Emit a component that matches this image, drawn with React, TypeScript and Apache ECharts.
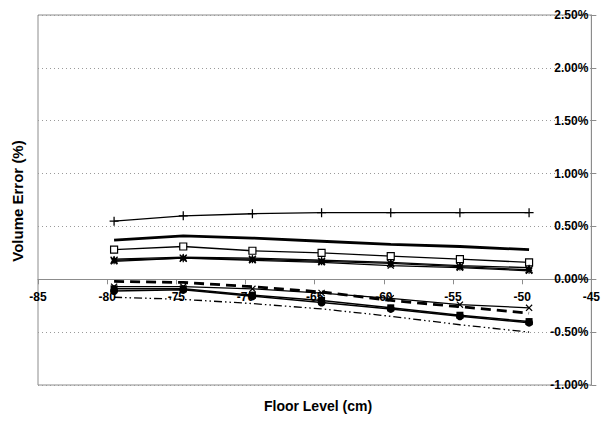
import React, { useEffect, useRef } from "react";
import * as echarts from "echarts";

const floorLevels = [-79.5, -74.5, -69.5, -64.5, -59.5, -54.5, -49.5];
const xTickLabels = [-85, -80, -75, -70, -65, -60, -55, -50, -45];
const yTickLabels = [-1.0, -0.5, 0.0, 0.5, 1.0, 1.5, 2.0, 2.5];

const plusSeries = [0.55, 0.6, 0.62, 0.63, 0.63, 0.63, 0.63];
const thickSeries = [0.37, 0.41, 0.39, 0.36, 0.33, 0.31, 0.28];
const squareSeries = [0.28, 0.31, 0.27, 0.25, 0.22, 0.19, 0.16];
const triangleSeries = [0.19, 0.21, 0.2, 0.18, 0.16, 0.13, 0.11];
const starSeries = [0.18, 0.2, 0.19, 0.17, 0.15, 0.12, 0.09];
const xPosSeries = [0.17, 0.2, 0.18, 0.16, 0.13, 0.11, 0.08];

const xNegSeries = [-0.07, -0.07, -0.09, -0.13, -0.18, -0.24, -0.27];
const dashedSeries = [-0.02, -0.03, -0.07, -0.12, -0.2, -0.26, -0.32];
const filledSquareSeries = [-0.09, -0.09, -0.15, -0.2, -0.27, -0.34, -0.4];
const circleSeries = [-0.11, -0.1, -0.16, -0.22, -0.28, -0.35, -0.41];
const dashDotSeries = [-0.17, -0.19, -0.23, -0.28, -0.35, -0.43, -0.5];

const FONT = 'Arial, "Liberation Sans", sans-serif';

const PLUS = "path://M4.3,0H5.7V4.3H10V5.7H5.7V10H4.3V5.7H0V4.3H4.3Z";
const XMARK = "path://M0,1.2L1.2,0L5,3.8L8.8,0L10,1.2L6.2,5L10,8.8L8.8,10L5,6.2L1.2,10L0,8.8L3.8,5Z";
const STAR = "path://M0,1.2L1.2,0L5,3.8L8.8,0L10,1.2L6.2,5L10,8.8L8.8,10L5,6.2L1.2,10L0,8.8L3.8,5Z M4.2,0H5.8V10H4.2Z";

const GRID_TOP = 15;
const GRID_BOTTOM = 37;
const CHART_H = 422;

function pairs(vals: number[]) {
  return floorLevels.map((x, i) => [x, vals[i]]);
}

function line(
  data: number[],
  opts: {
    symbol?: string;
    size?: number;
    width?: number;
    type?: any;
    fill?: string;
  }
) {
  return {
    type: "line",
    data: pairs(data),
    symbol: opts.symbol || "none",
    symbolSize: opts.size || 6,
    showSymbol: !!opts.symbol,
    lineStyle: { color: "#000", width: opts.width || 1.3, type: opts.type || "solid" },
    itemStyle: {
      color: opts.fill || "#000",
      borderColor: "#000",
      borderWidth: opts.fill === "#fff" ? 1.2 : 0,
    },
    z: 3,
  };
}

export default function App() {
  const ref = useRef<HTMLDivElement>(null);
  useEffect(() => {
    if (!ref.current) return;
    const chart = echarts.init(ref.current, null, { renderer: "svg" });
    const yMin = yTickLabels[0];
    const yMax = yTickLabels[yTickLabels.length - 1];
    const plotH = CHART_H - GRID_TOP - GRID_BOTTOM;
    // shift the x axis up so it crosses at y = 0
    const zeroOffset = -(plotH * (0 - yMin)) / (yMax - yMin);
    chart.setOption({
      animation: false,
      backgroundColor: "#fff",
      grid: {
        left: 38,
        right: 10,
        top: GRID_TOP,
        bottom: GRID_BOTTOM,
        show: true,
        borderColor: "#8c8c8c",
        borderWidth: 1,
        backgroundColor: "transparent",
      },
      xAxis: {
        type: "value",
        min: xTickLabels[0],
        max: xTickLabels[xTickLabels.length - 1],
        interval: 5,
        offset: zeroOffset,
        axisLine: { show: true, onZero: false, lineStyle: { color: "#8c8c8c", width: 1 } },
        axisTick: { show: true, length: 5, lineStyle: { color: "#8c8c8c" } },
        splitLine: { show: false },
        axisLabel: {
          color: "#000",
          fontFamily: FONT,
          fontWeight: "bold",
          fontSize: 12,
          margin: 12,
          formatter: (v: number) => String(v),
        },
      },
      yAxis: {
        type: "value",
        position: "right",
        min: yMin,
        max: yMax,
        interval: 0.5,
        axisLine: { show: true, lineStyle: { color: "#8c8c8c" } },
        axisTick: { show: true, length: 5, lineStyle: { color: "#8c8c8c" } },
        splitLine: {
          show: true,
          lineStyle: { color: "#9a9a9a", type: [1, 3], width: 1 },
        },
        axisLabel: {
          inside: true,
          margin: 3,
          color: "#000",
          fontFamily: FONT,
          fontWeight: "bold",
          fontSize: 12,
          formatter: (v: number) => v.toFixed(2) + "%",
        },
      },
      graphic: [
        {
          type: "text",
          x: 17,
          y: 201,
          rotation: Math.PI / 2,
          style: {
            text: "Volume Error (%)",
            font: `bold 15px ${FONT}`,
            fill: "#000",
            align: "center",
            verticalAlign: "middle",
          },
        },
        {
          type: "text",
          x: 318,
          y: 406,
          style: {
            text: "Floor Level (cm)",
            font: `bold 14px ${FONT}`,
            fill: "#000",
            align: "center",
            verticalAlign: "middle",
          },
        },
      ],
      series: [
        line(plusSeries, { symbol: PLUS, size: 9 }),
        line(thickSeries, { width: 2.8 }),
        line(squareSeries, { symbol: "rect", size: 7, fill: "#fff" }),
        line(triangleSeries, { symbol: "triangle", size: 7 }),
        line(starSeries, { symbol: STAR, size: 8 }),
        line(xPosSeries, { symbol: XMARK, size: 7 }),
        line(xNegSeries, { symbol: XMARK, size: 7 }),
        line(dashedSeries, { width: 2.8, type: [10, 6] }),
        line(filledSquareSeries, { symbol: "rect", size: 7, width: 1.5 }),
        line(circleSeries, { symbol: "circle", size: 8, width: 1.5 }),
        line(dashDotSeries, { width: 1.3, type: [8, 3, 1.5, 3, 1.5, 3] }),
      ],
    });
    return () => chart.dispose();
  }, []);
  return (
    <div
      ref={ref}
      style={{ position: "fixed", left: 0, top: 0, width: 603, height: 422 }}
    />
  );
}
